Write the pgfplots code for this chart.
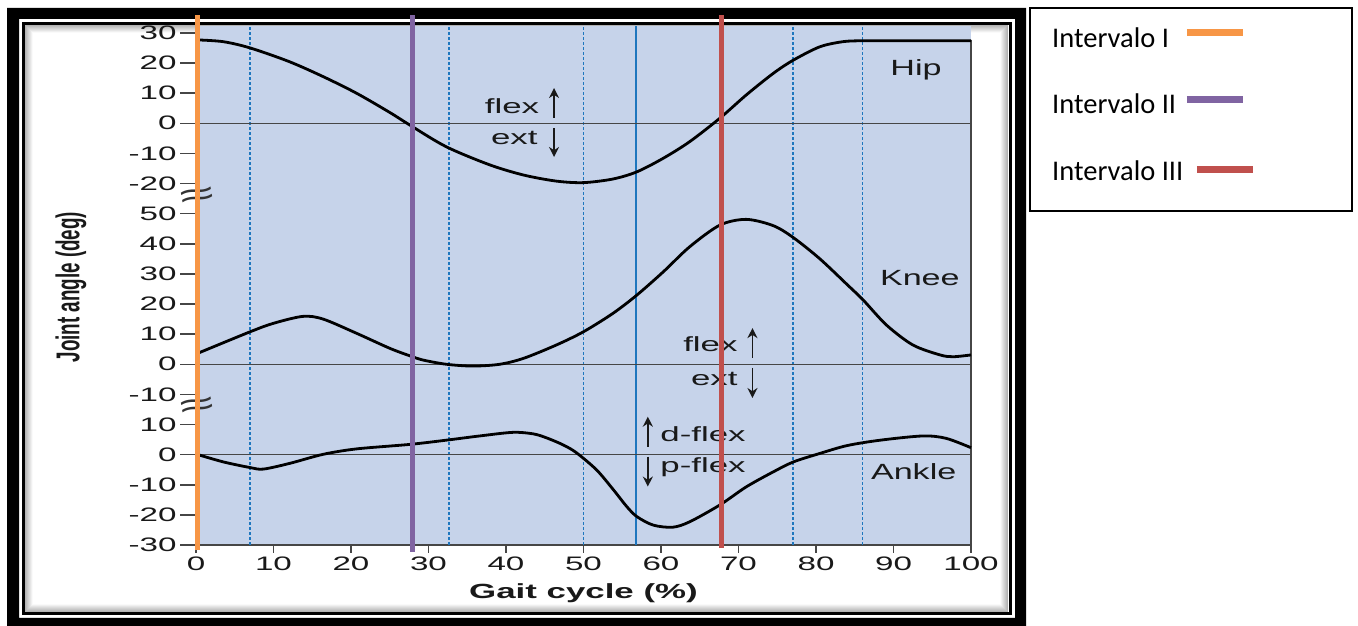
\documentclass[border=0pt]{standalone}
\usepackage{fontspec}
\setmainfont{Liberation Sans}
\newfontfamily\wide[FakeStretch=1.7]{Liberation Sans}
\newfontfamily\widelab[FakeStretch=1.55]{Liberation Sans}
\newfontfamily\ylabfont[FakeStretch=0.57]{Liberation Sans}
\newfontfamily\calibri{Carlito}
\usepackage{pgfplots}
\pgfplotsset{compat=1.18}
\usetikzlibrary{arrows.meta}
\definecolor{bgblue}{RGB}{198,211,234}
\definecolor{dotblue}{RGB}{30,118,190}
\definecolor{zgray}{RGB}{70,70,70}
\definecolor{iorange}{RGB}{247,150,70}
\definecolor{ipurple}{RGB}{128,100,162}
\definecolor{ired}{RGB}{192,80,77}
\pgfplotsset{
  legA/.style={legend image code/.code={\path (0pt,0pt); \draw[##1, line width=7pt] (1pt,5pt) -- (57pt,5pt);}},
  legB/.style={legend image code/.code={\path (0pt,0pt); \draw[##1, line width=7pt] (1pt,4pt) -- (57pt,4pt);}},
  legC/.style={legend image code/.code={\path (0pt,0pt); \draw[##1, line width=7pt] (11pt,1.5pt) -- (67pt,1.5pt);}},
}
\begin{document}
\begin{tikzpicture}[x=1pt,y=1pt]
\useasboundingbox (0pt,0pt) rectangle (1358pt,626pt);
\fill[white] (0pt,0pt) rectangle (1358pt,626pt);
% outer frame
\fill[black,even odd rule] (7pt,618pt) rectangle (1026pt,-5pt) (19pt,607pt) rectangle (1015pt,8pt);
\draw[line width=3pt] (23.5pt,602.5pt) rectangle (1010pt,12.5pt);
\foreach \i in {1,...,8} {
  \pgfmathsetmacro\c{int(34-4*\i)}
  \draw[black!\c, line width=1pt] (24.5pt+\i pt,601.5pt-\i pt) rectangle (1008.5pt-\i pt,13.5pt+\i pt);
}
% legend box
\draw[line width=1.5pt] (1030pt,618pt) rectangle (1352pt,415pt);
\begin{axis}[
  at={(196pt,81pt)}, anchor=south west,
  scale only axis, width=775pt, height=519pt,
  xmin=0, xmax=100, ymin=0, ymax=172.3,
  clip=false,
  axis background/.style={fill=bgblue},
  axis x line*=bottom, axis y line*=left,
  x axis line style={-, draw=zgray, line width=1.5pt},
  y axis line style={-, draw=zgray, line width=1.5pt},
  tick align=outside,
  major tick length=8pt,
  tick style={zgray, line width=1.5pt},
  /pgf/number format/assume math mode=true,
  xtick={0,10,...,100},
  ytick={0,10,...,170},
  yticklabels={-30,-20,-10,0,10,-10,0,10,20,30,40,50,-20,-10,0,10,20,30},
  extra y ticks={0,10,...,170},
  extra y tick labels={},
  extra y tick style={major tick length=16pt, tick style={zgray, line width=1.5pt}},
  xticklabel style={font=\wide\fontsize{19.5}{20}\selectfont, text=black!90},
  yticklabel style={font=\wide\fontsize{19.5}{20}\selectfont, text=black!90, xshift=-8pt},
  xlabel={Gait cycle (\%)},
  xlabel style={font=\wide\bfseries\fontsize{20.5}{22}\selectfont, text=black!90, at={(axis description cs:0.5,-0.0925)}, anchor=center},
  ylabel={Joint angle (deg)},
  ylabel style={font=\ylabfont\bfseries\fontsize{33}{34}\selectfont, text=black!90, at={(axis description cs:-0.1613,0.497)}, anchor=center},
  legend plot pos=right,
  legend cell align=left,
  legend style={at={(axis description cs:1.1045,0.998)}, anchor=north west, draw=none, fill=none,
    font=\calibri\fontsize{28.5}{30}\selectfont, inner sep=0pt,
    nodes={inner sep=0pt, text depth=0pt}, row sep=47pt, column sep=0pt},
]
% vertical reference lines
\addplot[dotblue, line width=1.8pt, dash pattern=on 3pt off 2pt, forget plot] coordinates {(7,0) (7,172.3)};
\addplot[dotblue, line width=1.8pt, dash pattern=on 3pt off 2pt, forget plot] coordinates {(32.6,0) (32.6,172.3)};
\addplot[dotblue, line width=1.8pt, dash pattern=on 3pt off 2pt, forget plot] coordinates {(50,0) (50,172.3)};
\addplot[dotblue, line width=1.8pt, dash pattern=on 3pt off 2pt, forget plot] coordinates {(77,0) (77,172.3)};
\addplot[dotblue, line width=1.8pt, dash pattern=on 3pt off 2pt, forget plot] coordinates {(86,0) (86,172.3)};
\addplot[dotblue, line width=1.8pt, forget plot] coordinates {(56.8,0) (56.8,172.3)};
% zero lines
\addplot[zgray, line width=1.3pt, forget plot] coordinates {(0,140) (100,140)};
\addplot[zgray, line width=1.3pt, forget plot] coordinates {(0,60) (100,60)};
\addplot[zgray, line width=1.3pt, forget plot] coordinates {(0,30) (100,30)};
\addplot[zgray, line width=1.5pt, forget plot] coordinates {(100,0) (100,167.6)};
% Hip
\addplot[black, line width=2.8pt, smooth, forget plot, y filter/.expression={y+140}] coordinates {
(0,27.7) (3.5,27.1) (7,25) (12,20.5) (16.4,15.5) (20.7,10) (25,3.6) (27.6,-0.6) (32.3,-7.8) (37.9,-13.8) (42.3,-17.2) (46.5,-19.2) (50,-19.7) (53.8,-18.5) (56.9,-16.1) (60.3,-11.6) (63.7,-6.1) (67.6,1.7) (71,9.4) (74.5,16.6) (77.1,21) (80.5,25.4) (83.5,27.1) (86,27.4) (90,27.4) (100,27.4)};
% Knee
\addplot[black, line width=2.8pt, smooth, forget plot, y filter/.expression={y+60}] coordinates {
(0,3.4) (7,10.8) (10,13.6) (13.8,15.9) (16.4,15.0) (20.7,10.3) (25,5.3) (27.6,2.8) (29.3,1.4) (32.3,0) (35.7,-0.6) (39.2,0) (42.3,2) (46.5,6.4) (50,10.8) (53.8,16.9) (56.9,23) (60.3,30.7) (63.7,39) (67.6,46.2) (71,48.1) (74.5,46.0) (77.1,42.0) (80.5,35.0) (84,26.5) (86.1,21.3) (89.1,13) (92.5,6.4) (96,3.1) (97.7,2.5) (100,3.1)};
% Ankle
\addplot[black, line width=2.8pt, smooth, forget plot, y filter/.expression={y+30}] coordinates {
(0,0.2) (3.5,-2.4) (7,-4.3) (8.7,-4.8) (12.1,-2.9) (16.4,0.1) (20.7,1.9) (27.6,3.4) (32.3,4.8) (36.6,6.2) (40.9,7.4) (43.5,6.9) (45.2,5.6) (47.4,3.2) (49.1,0.6) (51.7,-5.1) (53.9,-11.8) (55.6,-17.3) (56.9,-20.6) (59,-23.4) (61.5,-24.1) (63.7,-22.3) (67.6,-16.7) (71,-10.7) (74.5,-5.7) (77.1,-2.4) (80.5,0.4) (84,3.0) (88.3,4.8) (93.8,6.2) (96.8,5.4) (100,2.3)};
% labels
\node[font=\widelab\fontsize{22}{24}\selectfont, text=black!90, anchor=base] at (axis cs:92.9,155.8) {Hip};
\node[font=\widelab\fontsize{22}{24}\selectfont, text=black!90, anchor=base] at (axis cs:93.4,86.1) {Knee};
\node[font=\widelab\fontsize{22}{24}\selectfont, text=black!90, anchor=base] at (axis cs:92.6,21.6) {Ankle};
\node[font=\wide\fontsize{20.5}{22}\selectfont, text=black!90, anchor=base east, inner sep=0pt] at (axis cs:44.3,143.3) {flex};
\node[font=\wide\fontsize{20.5}{22}\selectfont, text=black!90, anchor=base east, inner sep=0pt] at (axis cs:44.1,132.8) {ext};
\node[font=\wide\fontsize{20.5}{22}\selectfont, text=black!90, anchor=base east, inner sep=0pt] at (axis cs:69.9,64.2) {flex};
\node[font=\wide\fontsize{20.5}{22}\selectfont, text=black!90, anchor=base east, inner sep=0pt] at (axis cs:69.9,53.1) {ext};
\node[font=\wide\fontsize{20.5}{22}\selectfont, text=black!90, anchor=base west, inner sep=0pt] at (axis cs:59.9,34.5) {d-flex};
\node[font=\wide\fontsize{20.5}{22}\selectfont, text=black!90, anchor=base west, inner sep=0pt] at (axis cs:59.9,24.1) {p-flex};
\draw[-{Stealth[length=10pt,width=10pt]}, line width=1.8pt, black!90] (axis cs:46.2,141.8) -- (axis cs:46.2,151.7);
\draw[-{Stealth[length=10pt,width=10pt]}, line width=1.8pt, black!90] (axis cs:46.2,138.4) -- (axis cs:46.2,128.8);
\draw[-{Stealth[length=10pt,width=10pt]}, line width=1.8pt, black!90] (axis cs:71.8,62.1) -- (axis cs:71.8,72.0);
\draw[-{Stealth[length=10pt,width=10pt]}, line width=1.8pt, black!90] (axis cs:71.8,58.8) -- (axis cs:71.8,48.8);
\draw[-{Stealth[length=10pt,width=10pt]}, line width=1.8pt, black!90] (axis cs:58.3,32.6) -- (axis cs:58.3,42.6);
\draw[-{Stealth[length=10pt,width=10pt]}, line width=1.8pt, black!90] (axis cs:58.3,29.3) -- (axis cs:58.3,19.4);
% axis breaks
\node[font=\wide\fontsize{36}{36}\selectfont, text=black!80, rotate=10, inner sep=0pt] at (axis cs:0.2,115.2) {≈};
\node[font=\wide\fontsize{36}{36}\selectfont, text=black!80, rotate=10, inner sep=0pt] at (axis cs:0.2,45.5) {≈};
% intervals
\addplot[iorange, line width=5pt, legA] coordinates {(0.2,-1.7) (0.2,176)};
\addlegendentry{Intervalo I}
\addplot[ipurple, line width=5pt, legB] coordinates {(27.9,-2.3) (27.9,176)};
\addlegendentry{Intervalo II}
\addplot[ired, line width=5pt, legC] coordinates {(67.8,-1) (67.8,176)};
\addlegendentry{Intervalo III}
\end{axis}
\end{tikzpicture}
\end{document}
